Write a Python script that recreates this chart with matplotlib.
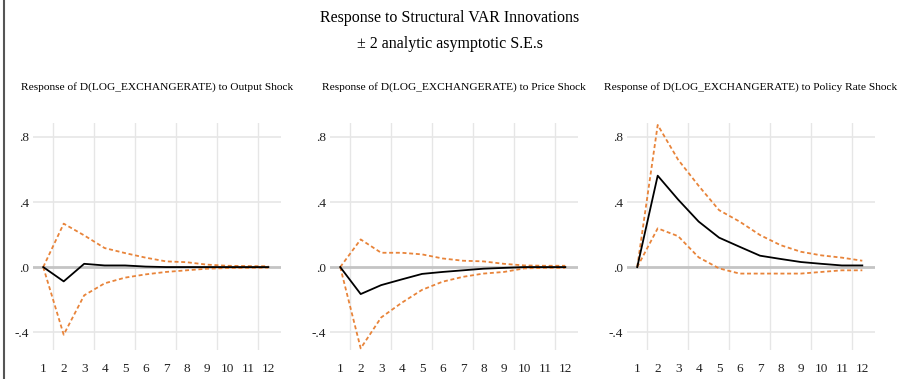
import numpy as np
import matplotlib
matplotlib.use("Agg")
import matplotlib.pyplot as plt
from matplotlib.lines import Line2D

plt.rcParams['font.family'] = ['Liberation Serif', 'DejaVu Serif']

periods = list(range(1, 13))

# response of D(LOG_EXCHANGERATE) to each shock, with +/- 2 S.E. bands
titles = ["Response of D(LOG_EXCHANGERATE) to Output Shock",
          "Response of D(LOG_EXCHANGERATE) to Price Shock",
          "Response of D(LOG_EXCHANGERATE) to Policy Rate Shock"]

output_resp = [0.0, -0.088, 0.02, 0.01, 0.01, 0.003, 0.0, 0.0, 0.0, 0.0, 0.0, 0.0]
output_up = [0.0, 0.267, 0.195, 0.117, 0.086, 0.058, 0.035, 0.03, 0.015, 0.008, 0.006, 0.005]
output_lo = [0.0, -0.416, -0.174, -0.10, -0.065, -0.045, -0.03, -0.02, -0.01, -0.006, -0.005, -0.004]

price_resp = [0.0, -0.166, -0.111, -0.076, -0.042, -0.03, -0.02, -0.01, -0.005, 0.0, 0.0, 0.0]
price_up = [0.0, 0.17, 0.088, 0.088, 0.078, 0.053, 0.039, 0.035, 0.02, 0.01, 0.008, 0.008]
price_lo = [0.0, -0.50, -0.31, -0.22, -0.14, -0.09, -0.06, -0.04, -0.03, -0.008, -0.005, -0.005]

policy_resp = [0.0, 0.562, 0.415, 0.28, 0.181, 0.125, 0.07, 0.05, 0.031, 0.02, 0.01, 0.01]
policy_up = [0.0, 0.874, 0.66, 0.50, 0.35, 0.28, 0.197, 0.135, 0.094, 0.072, 0.058, 0.039]
policy_lo = [0.0, 0.238, 0.19, 0.06, -0.008, -0.04, -0.04, -0.04, -0.04, -0.03, -0.02, -0.02]

series = [(output_resp, output_up, output_lo),
          (price_resp, price_up, price_lo),
          (policy_resp, policy_up, policy_lo)]

orange = "#E8843A"
grid_c = "#e6e6e6"

fig = plt.figure(figsize=(9, 3.79), dpi=100)
fig.patch.set_facecolor("white")

lefts = [33, 330, 627]
for i, (resp, up, lo) in enumerate(series):
    ax = fig.add_axes([lefts[i] / 900, 1 - 350 / 379, 248 / 900, 227 / 379])
    ax.set_xlim(0.5, 12.62)
    ax.set_ylim(-0.51, 0.886)
    for v in [1.5, 3.5, 5.5, 7.5, 9.5, 11.5]:
        ax.axvline(v, color=grid_c, lw=1, zorder=0)
    for v in [-0.4, 0.4, 0.8]:
        ax.axhline(v, color=grid_c, lw=1.2, zorder=0)
    ax.axhline(0, color="#c4c4c4", lw=2, zorder=1)
    ax.plot(periods, up, color=orange, lw=1.3, ls=(0, (2.2, 1.5)), zorder=2)
    ax.plot(periods, lo, color=orange, lw=1.3, ls=(0, (2.2, 1.5)), zorder=2)
    ax.plot(periods, resp, color="black", lw=1.3, zorder=3)
    ax.set_xticks(periods)
    ax.set_xticklabels([str(p) for p in periods])
    ax.set_yticks([-0.4, 0.0, 0.4, 0.8])
    ax.set_yticklabels(["-.4", ".0", ".4", ".8"])
    ax.tick_params(length=0, labelsize=9.5, colors="#222222")
    ax.tick_params(axis="y", pad=3)
    ax.tick_params(axis="x", pad=9)
    for s in ax.spines.values():
        s.set_visible(False)
    ax.set_title(titles[i], fontsize=8.2, pad=24)

fig.text(0.5, 1 - 18 / 379, "Response to Structural VAR Innovations",
         ha="center", va="center", fontsize=11.5)
fig.text(0.5, 1 - 44 / 379, "\u00b1 2 analytic asymptotic S.E.s",
         ha="center", va="center", fontsize=11.5)

fig.add_artist(Line2D([3.5 / 900, 3.5 / 900], [0, 1], color="#555555", lw=1.5))

fig.savefig("out.png", dpi=100, facecolor="white")
